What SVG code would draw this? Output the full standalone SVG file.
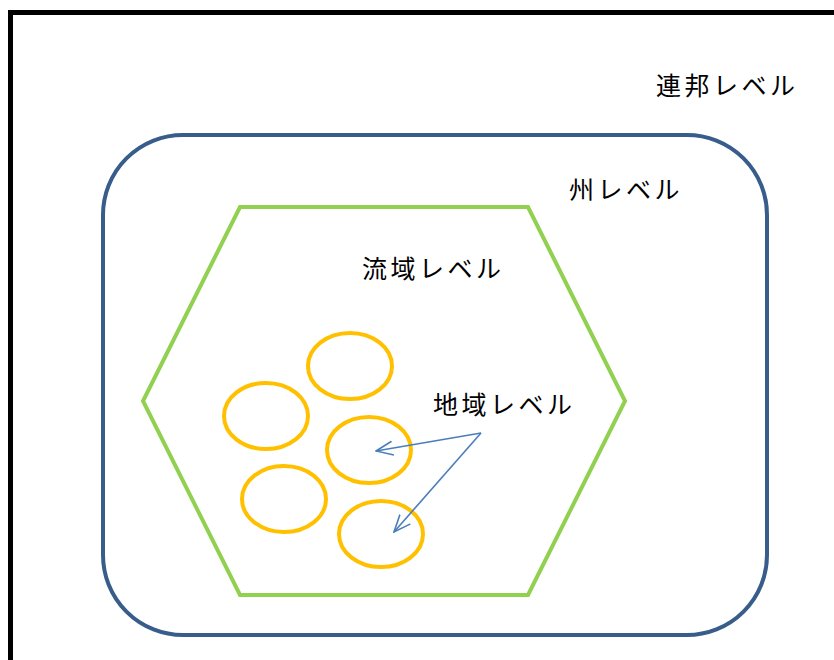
<svg xmlns="http://www.w3.org/2000/svg" width="834" height="660" viewBox="0 0 834 660">
<style>
.lbl{font-family:"Noto Sans CJK JP","Noto Sans CJK SC",sans-serif;font-size:25px;font-weight:400;fill:#000;letter-spacing:3.5px}
.reg{fill:none;stroke:#FFC000;stroke-width:4}
.arr{stroke:#4A7EBB;stroke-width:1.6;fill:none}
</style>
<defs>
<marker id="ah" viewBox="0 0 18 18" refX="17" refY="9" markerWidth="18" markerHeight="18" markerUnits="userSpaceOnUse" orient="auto">
<path d="M0,2 L17,9 L0,16" fill="none" stroke="#4A7EBB" stroke-width="1.6"/>
</marker>
</defs>
<g id="federal">
<path d="M10.5,660 V12.5 H834" fill="none" stroke="#000" stroke-width="5"/>
<text class="lbl" x="656" y="95">連邦レベル</text>
</g>
<g id="state">
<rect x="103" y="135" width="664" height="500" rx="80" ry="80" fill="none" stroke="#385D8A" stroke-width="4"/>
<text class="lbl" x="569" y="199">州レベル</text>
</g>
<g id="basin">
<polygon points="240,207 528,207 625,401 528,595 240,595 143,401" fill="none" stroke="#92D050" stroke-width="4"/>
<text class="lbl" x="362" y="278">流域レベル</text>
</g>
<g id="regions">
<ellipse class="reg" cx="350" cy="366" rx="42" ry="33"/>
<ellipse class="reg" cx="266" cy="416" rx="42" ry="33"/>
<ellipse class="reg" cx="369" cy="450" rx="42" ry="33"/>
<ellipse class="reg" cx="284" cy="499" rx="42" ry="33"/>
<ellipse class="reg" cx="381" cy="534" rx="42" ry="33"/>
<text class="lbl" x="433" y="414">地域レベル</text>
</g>
<g id="connectors">
<line class="arr" x1="481" y1="433" x2="376" y2="451" marker-end="url(#ah)"/>
<line class="arr" x1="481" y1="433" x2="394" y2="532" marker-end="url(#ah)"/>
</g>
</svg>
